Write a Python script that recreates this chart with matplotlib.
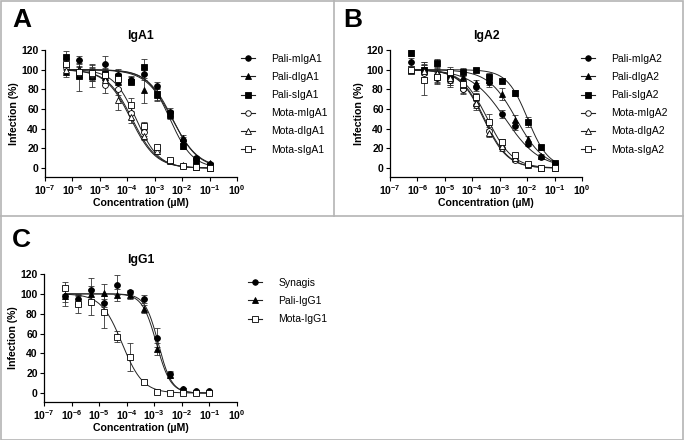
import numpy as np
import matplotlib
matplotlib.use("Agg")
import matplotlib.pyplot as plt
from matplotlib.lines import Line2D
from matplotlib.patches import Rectangle

plt.rcParams['font.family'] = ['Liberation Sans', 'DejaVu Sans']
plt.rcParams['mathtext.fontset'] = 'custom'
plt.rcParams['mathtext.rm'] = 'Liberation Sans'
plt.rcParams['mathtext.bf'] = 'Liberation Sans:bold'

# 3-fold dilution series (uM)
conc = [5.6e-7, 1.69e-6, 5.08e-6, 1.52e-5, 4.57e-5, 1.37e-4,
        4.12e-4, 1.23e-3, 3.7e-3, 1.11e-2, 3.33e-2, 1.0e-1]

# ---- Panel A: IgA1
a_labels = ['Pali-mIgA1', 'Pali-dIgA1', 'Pali-sIgA1', 'Mota-mIgA1', 'Mota-dIgA1', 'Mota-sIgA1']
a_pali_m = [106, 110, 97, 106, 95, 90, 96, 83, 57, 29, 10, 4]
a_pali_d = [98, 101, 96, 93, 88, 90, 79, 74, 54, 31, 6, 5]
a_pali_s = [113, 94, 94, 96, 93, 88, 103, 75, 55, 22, 7, 2]
a_mota_m = [103, 97, 95, 84, 80, 56, 37, 17, 7, 2, 1, 0]
a_mota_d = [100, 100, 96, 90, 69, 52, 33, 17, 7, 3, 1, 0]
a_mota_s = [106, 98, 97, 95, 91, 64, 43, 21, 8, 2, 1, 0]
a_err_m = [6, 4, 8, 8, 6, 3, 6, 5, 4, 3, 2, 1]
a_err_d = [5, 6, 6, 6, 7, 4, 13, 6, 4, 3, 2, 1]
a_err_s = [6, 16, 12, 6, 6, 3, 8, 6, 4, 3, 2, 1]
a_err_om = [5, 4, 6, 8, 6, 6, 4, 3, 2, 1, 1, 1]
a_err_od = [4, 4, 5, 6, 10, 6, 4, 3, 2, 1, 1, 1]
a_err_os = [5, 5, 6, 6, 6, 7, 4, 3, 2, 1, 1, 1]
# 4PL fit parameters: IC50 (uM), Hill slope
a_ic50 = [4.5e-3, 4.3e-3, 3.6e-3, 1.5e-4, 1.35e-4, 2.1e-4]
a_hill = [0.95, 0.9, 1.05, 0.95, 0.95, 1.05]

# ---- Panel B: IgA2
b_labels = ['Pali-mIgA2', 'Pali-dIgA2', 'Pali-sIgA2', 'Mota-mIgA2', 'Mota-dIgA2', 'Mota-sIgA2']
b_pali_m = [108, 98, 92, 90, 80, 82, 88, 55, 43, 25, 11, 4]
b_pali_d = [100, 100, 96, 92, 93, 86, 90, 75, 49, 30, 12, 4]
b_pali_s = [117, 100, 107, 93, 98, 100, 93, 89, 76, 47, 21, 5]
b_mota_m = [100, 97, 95, 90, 80, 64, 38, 20, 8, 3, 0, 0]
b_mota_d = [100, 99, 97, 92, 84, 66, 36, 22, 10, 3, 0, 0]
b_mota_s = [100, 90, 93, 98, 85, 72, 47, 27, 13, 4, 0, 0]
b_err_m = [4, 10, 6, 8, 4, 4, 6, 4, 4, 3, 2, 1]
b_err_d = [4, 8, 8, 8, 5, 4, 6, 6, 5, 3, 2, 1]
b_err_s = [3, 5, 4, 6, 4, 2, 4, 2, 3, 5, 3, 1]
b_err_om = [4, 6, 5, 6, 5, 5, 4, 3, 2, 1, 1, 1]
b_err_od = [4, 6, 5, 6, 5, 5, 4, 3, 2, 1, 1, 1]
b_err_os = [4, 16, 8, 5, 6, 4, 8, 3, 2, 1, 1, 1]
b_ic50 = [1.6e-3, 4.0e-3, 1.05e-2, 2.6e-4, 2.8e-4, 3.6e-4]
b_hill = [0.7, 0.85, 1.15, 1.0, 1.0, 0.95]

# ---- Panel C: IgG1
c_labels = ['Synagis', 'Pali-IgG1', 'Mota-IgG1']
c_synagis = [98, 95, 104, 91, 109, 102, 95, 56, 19, 4, 2, 2]
c_pali = [98, 93, 100, 101, 99, 99, 85, 44, 18, 4, 1, 1]
c_mota = [106, 90, 92, 82, 57, 36, 11, 1, 0, 0, 0, 0]
c_err_syn = [10, 5, 12, 4, 10, 2, 4, 10, 3, 1, 1, 1]
c_err_pali = [6, 5, 8, 9, 6, 4, 4, 6, 3, 1, 1, 1]
c_err_mota = [6, 9, 13, 16, 6, 14, 2, 1, 1, 1, 1, 1]
c_ic50 = [1.4e-3, 1.2e-3, 6.8e-5]
c_hill = [1.8, 1.7, 1.15]

markers6 = [('o', 'k'), ('^', 'k'), ('s', 'k'), ('o', 'w'), ('^', 'w'), ('s', 'w')]
markers3 = [('o', 'k'), ('^', 'k'), ('s', 'w')]

xticks = [1e-7, 1e-6, 1e-5, 1e-4, 1e-3, 1e-2, 1e-1, 1e0]
xticklabels = [r'$\mathbf{10^{-7}}$', r'$\mathbf{10^{-6}}$', r'$\mathbf{10^{-5}}$', r'$\mathbf{10^{-4}}$',
               r'$\mathbf{10^{-3}}$', r'$\mathbf{10^{-2}}$', r'$\mathbf{10^{-1}}$', r'$\mathbf{10^{0}}$']

W, H = 684, 440
fig = plt.figure(figsize=(W / 100, H / 100), dpi=100)


def px_axes(left, top, right, bottom):
    return fig.add_axes([left / W, 1 - bottom / H, (right - left) / W, (bottom - top) / H])


def style_axes(ax, title):
    ax.set_xscale('log')
    ax.set_xlim(1e-7, 1e0)
    ax.set_ylim(-9, 120)
    ax.set_xticks(xticks)
    ax.set_xticklabels(xticklabels)
    ax.xaxis.set_minor_locator(matplotlib.ticker.NullLocator())
    ax.set_yticks([0, 20, 40, 60, 80, 100, 120])
    for lab in ax.get_yticklabels():
        lab.set_fontweight('bold')
    ax.tick_params(axis='y', labelsize=7.5, length=3, width=0.8, pad=1.5)
    ax.tick_params(axis='x', labelsize=7.5, length=3, width=0.8, pad=1.5)
    ax.spines['top'].set_visible(False)
    ax.spines['right'].set_visible(False)
    ax.spines['left'].set_linewidth(0.9)
    ax.spines['bottom'].set_linewidth(0.9)
    ax.set_xlabel('Concentration (µM)', fontsize=7.6, fontweight='bold', labelpad=0.5)
    ax.set_ylabel('Infection (%)', fontsize=7.6, fontweight='bold', labelpad=1.5)
    ax.set_title(title, fontsize=8.8, fontweight='bold', pad=8)


def draw_series(ax, values, errors, ic50s, hills, markers):
    for y, e, ic, h, (m, fc) in zip(values, errors, ic50s, hills, markers):
        ax.errorbar(conc, y, yerr=e, fmt='none', ecolor='#333333', elinewidth=0.6,
                    capsize=2, capthick=0.6, zorder=2)
        xs = np.logspace(np.log10(conc[0]), np.log10(conc[-1]), 200)
        ax.plot(xs, 100.0 / (1 + (xs / ic) ** h), color='#222222', lw=0.7, zorder=3)
        ax.plot(conc, y, ls='none', marker=m, ms=4.2, mfc=fc, mec='k', mew=0.6, zorder=4)


def add_legend(labels, markers, x, y, spacing):
    handles = [Line2D([], [], color='#222222', lw=0.8, marker=m, ms=4.0, mfc=fc, mec='k', mew=0.6)
               for m, fc in markers]
    fig.legend(handles, labels, loc='upper left', bbox_to_anchor=(x / W, 1 - y / H),
               frameon=False, fontsize=7.5, handlelength=1.3, handletextpad=1.6,
               labelspacing=spacing, borderpad=0, borderaxespad=0)


axA = px_axes(45, 50, 237, 177)
draw_series(axA, [a_pali_m, a_pali_d, a_pali_s, a_mota_m, a_mota_d, a_mota_s],
            [a_err_m, a_err_d, a_err_s, a_err_om, a_err_od, a_err_os], a_ic50, a_hill, markers6)
style_axes(axA, 'IgA1')
add_legend(a_labels, markers6, 241, 54, 0.78)

axB = px_axes(390, 50, 582, 177)
draw_series(axB, [b_pali_m, b_pali_d, b_pali_s, b_mota_m, b_mota_d, b_mota_s],
            [b_err_m, b_err_d, b_err_s, b_err_om, b_err_od, b_err_os], b_ic50, b_hill, markers6)
style_axes(axB, 'IgA2')
add_legend(b_labels, markers6, 581, 54, 0.78)

axC = px_axes(44, 274, 237, 402)
draw_series(axC, [c_synagis, c_pali, c_mota], [c_err_syn, c_err_pali, c_err_mota],
            c_ic50, c_hill, markers3)
style_axes(axC, 'IgG1')
add_legend(c_labels, markers3, 248, 278, 0.78)

# panel letters
fig.text(12 / W, 1 - 27 / H, 'A', fontsize=19, fontweight='bold', va='baseline')
fig.text(343 / W, 1 - 27 / H, 'B', fontsize=19, fontweight='bold', va='baseline')
fig.text(12 / W, 1 - 247 / H, 'C', fontsize=19, fontweight='bold', va='baseline')

# grey frame and dividers
gc = '#b4b4b4'
fig.add_artist(Rectangle((0.5 / W, 0.5 / H), (W - 1.5) / W, (H - 1.5) / H, transform=fig.transFigure,
                         fill=False, edgecolor=gc, lw=1.2))
fig.add_artist(Line2D([334 / W, 334 / W], [1, 1 - 216 / H], transform=fig.transFigure, color=gc, lw=1.2))
fig.add_artist(Line2D([0, 1], [1 - 216 / H, 1 - 216 / H], transform=fig.transFigure, color=gc, lw=1.2))

fig.savefig('out.png', dpi=100)
